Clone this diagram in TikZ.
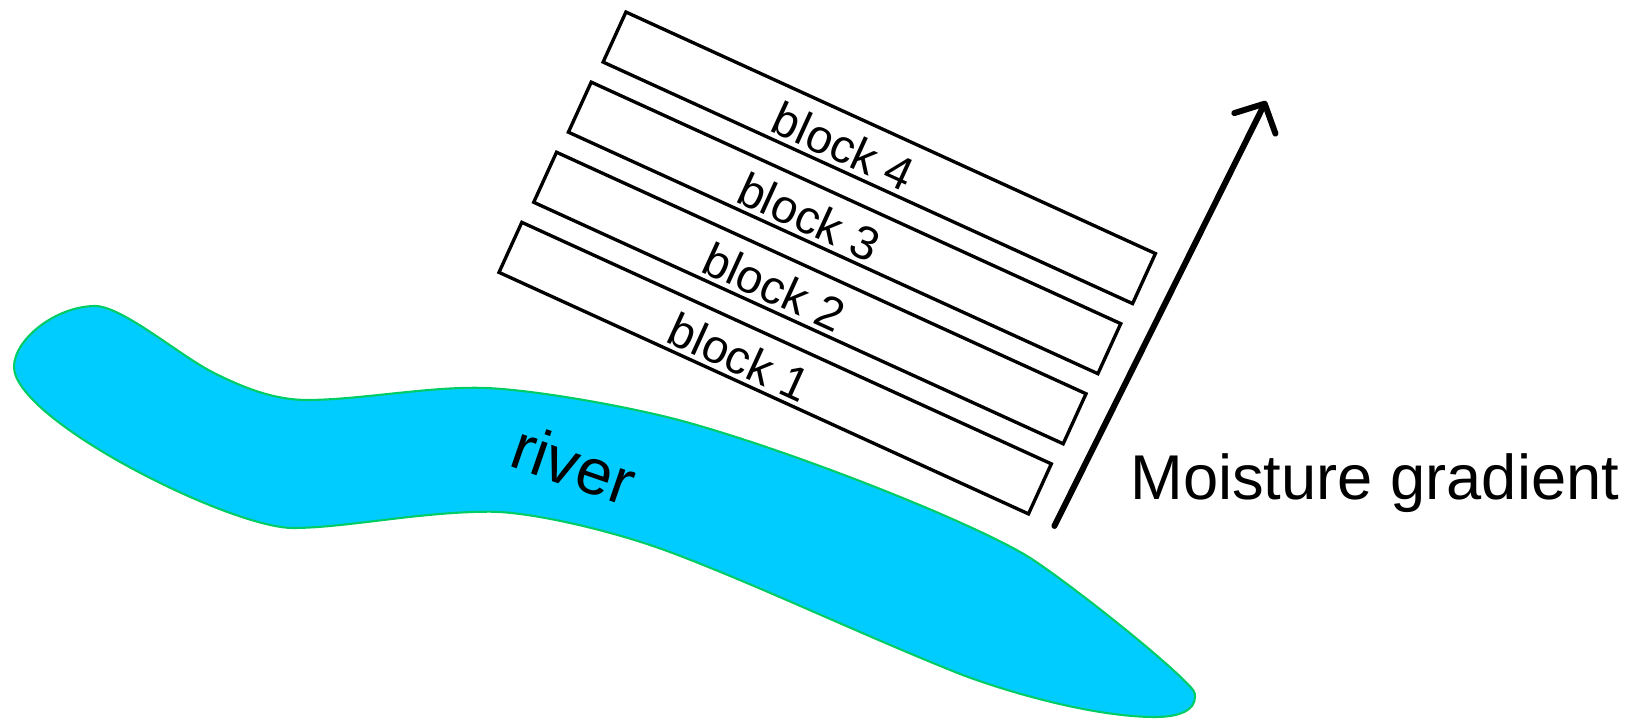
\documentclass[tikz,border=0pt]{standalone}
\usepackage{fontspec}
\setmainfont{Liberation Sans}
\usepackage{tikz}
\usetikzlibrary{arrows.meta}
\newcommand{\lb}{5.82}
\newcommand{\wb}{0.55}
\newcommand{\ang}{-24.52}
\definecolor{bleuriv}{RGB}{0,204,255}
\definecolor{vertriv}{RGB}{0,204,102}
\tikzstyle{bloc}=[line width=0.95pt, join=miter]
\tikzstyle{etiq}=[inner sep=0, font=\fontsize{13.4}{15}\selectfont]
\tikzstyle{riviere}=[fill=bleuriv, draw=vertriv, line width=0.6pt]
\tikzstyle{fleche}=[line width=1.7pt, line cap=round, -{Straight Barb[length=2.2mm,width=4.6mm,round]}]
\begin{document}
\begin{tikzpicture}
\useasboundingbox (0,0) rectangle (16.4,7.2);

%riviere
\path[riviere] (0.96,4.14)
  .. controls (1.25,4.12) and (1.80,3.64) .. (2.14,3.47)
  .. controls (2.45,3.315) and (2.75,3.20) .. (3.07,3.20)
  .. controls (3.60,3.20) and (4.30,3.34) .. (4.857,3.32)
  .. controls (5.35,3.30) and (6.25,3.14) .. (6.786,3.00)
  .. controls (7.944,2.688) and (9.834,1.934) .. (10.333,1.60)
  .. controls (10.749,1.322) and (11.587,0.656) .. (11.867,0.37)
  .. controls (11.937,0.299) and (11.95,0.283) .. (11.95,0.233)
  .. controls (11.95,0.10) and (11.80,0.03) .. (11.55,0.03)
  .. controls (10.95,0.03) and (10.10,0.27) .. (9.60,0.46)
  .. controls (8.60,0.86) and (7.633,1.325) .. (6.733,1.667)
  .. controls (6.133,1.895) and (5.30,2.083) .. (4.90,2.083)
  .. controls (4.20,2.083) and (3.45,1.92) .. (2.93,1.92)
  .. controls (2.30,1.92) and (0.14,3.00) .. (0.14,3.533)
  .. controls (0.14,3.80) and (0.55,4.14) .. cycle;
\node[inner sep=0, rotate=-19, font=\fontsize{18.4}{21}\selectfont] (R) at (5.74,2.56) {river};

%blocs
\foreach \I in {1,...,4}
{\pgfmathsetmacro{\bx}{4.99+0.347*(\I-1)}
 \pgfmathsetmacro{\by}{4.476+0.701*(\I-1)}
 \begin{scope}[shift={(\bx,\by)}, rotate=\ang]
 \draw[bloc] (0,0) rectangle (\lb,\wb);
 \node[etiq, rotate=\ang] (L\I) at (\lb/2-0.37,\wb/2-0.045) {block \I};
 \end{scope}
}

%gradient
\coordinate (G0) at (10.544,1.94);
\coordinate (G1) at (12.66,6.19);
\draw[fleche] (G0) -- (G1);
\node[inner sep=0, anchor=base west, font=\fontsize{18}{21}\selectfont] (M) at (11.297,2.20) {Moisture gradient};
\end{tikzpicture}
\end{document}
